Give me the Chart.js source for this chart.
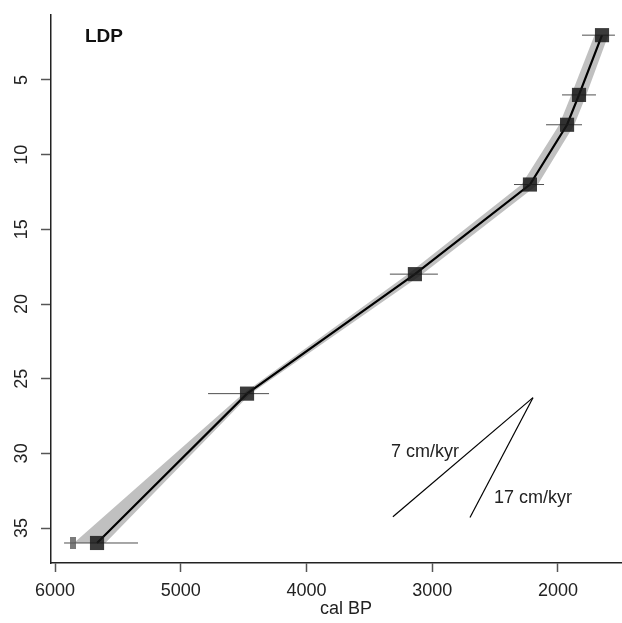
<!DOCTYPE html>
<html>
<head>
<meta charset="utf-8">
<script src="https://cdn.jsdelivr.net/npm/chart.js@4/dist/chart.umd.min.js"></script>
<style>
  body { margin: 0; background: #fff; }
  #wrap { width: 622px; height: 623px; }
</style>
</head>
<body>
<div id="wrap"><canvas id="chart"></canvas></div>
<script>
// depth (cm) and ages (cal BP)
const depths = [2, 6, 8, 12, 18, 26, 36];
const meanAge = [1650, 1833, 1928, 2223, 3138, 4473, 5666];
const errOld = [1809, 1968, 2095, 2350, 3337, 4783, 5928];
const errYoung = [1547, 1698, 1809, 2111, 2955, 4298, 5340];
const bandOld = [1710, 1895, 1990, 2290, 3195, 4505, 5850];
const bandYoung = [1600, 1775, 1870, 2160, 3080, 4445, 5600];
const outlier = [{ x: 5857, y: 36 }];

// sedimentation rate guide lines
const rateApex = { x: 2199, y: 26.27 };
const rateEnds = [{ x: 3313, y: 34.24 }, { x: 2700, y: 34.3 }];
const rateLabels = ['7 cm/kyr', '17 cm/kyr'];
const rateLabelPos = [{ x: 3058, y: 29.9 }, { x: 2199, y: 32.97 }];

const xTicks = [2000, 3000, 4000, 5000, 6000];
const yTicks = [5, 10, 15, 20, 25, 30, 35];

const FONT = '"Liberation Sans", Arial, sans-serif';

const pts = (ages) => ages.map((a, i) => ({ x: a, y: depths[i] }));

const datasets = [
  { // 0: band old edge
    type: 'line', data: pts(bandOld), borderWidth: 0, pointRadius: 0,
    fill: false, order: 11
  },
  { // 1: band young edge, filled to old edge
    type: 'line', data: pts(bandYoung), borderWidth: 0, pointRadius: 0,
    fill: { target: 0 }, backgroundColor: 'rgba(150,150,150,0.6)', order: 10
  },
  { // mean age model
    type: 'line', data: pts(meanAge), borderColor: '#000', borderWidth: 2.2,
    pointRadius: 0, fill: false, order: 5
  },
  { // dated levels
    type: 'scatter', data: pts(meanAge), pointStyle: 'rect', pointRadius: 10,
    backgroundColor: 'rgba(25,25,25,0.85)', borderWidth: 0, order: 0
  },
  { // rejected / outlying date
    type: 'scatter', data: outlier, pointStyle: 'line', rotation: 90, pointRadius: 6,
    borderColor: 'rgba(90,90,90,0.8)', borderWidth: 6, order: 0
  },
  ...rateEnds.map((e) => ({
    type: 'line', data: [rateApex, e], borderColor: '#000', borderWidth: 1.2,
    pointRadius: 0, fill: false, order: 6
  })),
  ...depths.map((d, i) => ({
    type: 'line', data: [{ x: errOld[i], y: d }, { x: errYoung[i], y: d }],
    borderColor: 'rgba(60,60,60,0.9)', borderWidth: 1, pointRadius: 0,
    fill: false, order: 1
  }))
];

const textPlugin = {
  id: 'textPlugin',
  afterDraw(chart) {
    const ctx = chart.ctx;
    const xs = chart.scales.x, ys = chart.scales.y;
    ctx.save();
    ctx.fillStyle = '#222';
    ctx.font = '18px ' + FONT;
    // y tick labels, rotated like R's axis
    ctx.textAlign = 'center';
    ctx.textBaseline = 'middle';
    yTicks.forEach((v) => {
      ctx.save();
      ctx.translate(22, ys.getPixelForValue(v));
      ctx.rotate(-Math.PI / 2);
      ctx.fillText(String(v), 0, 0);
      ctx.restore();
    });
    // axis title
    ctx.fillText('cal BP', 346, 609);
    // rate labels
    rateLabels.forEach((t, i) => {
      ctx.fillText(t, xs.getPixelForValue(rateLabelPos[i].x), ys.getPixelForValue(rateLabelPos[i].y));
    });
    // site name
    ctx.fillStyle = '#111';
    ctx.font = 'bold 19px ' + FONT;
    ctx.textAlign = 'left';
    ctx.fillText('LDP', 85, 37);
    ctx.restore();
  }
};

new Chart(document.getElementById('chart'), {
  type: 'scatter',
  data: { datasets },
  plugins: [textPlugin],
  options: {
    responsive: true,
    maintainAspectRatio: false,
    animation: false,
    layout: { autoPadding: false, padding: { top: 15, right: 0, left: 0, bottom: 0 } },
    plugins: { legend: { display: false }, tooltip: { enabled: false } },
    scales: {
      x: {
        type: 'linear',
        reverse: true,
        min: 1491,
        max: 6032,
        afterFit: (s) => { s.height = 60; s.paddingLeft = 0; s.paddingRight = 0; },
        afterBuildTicks: (s) => { s.ticks = xTicks.map((v) => ({ value: v })); },
        border: { display: true, color: '#222', width: 1.5 },
        grid: { drawOnChartArea: false, drawTicks: true, tickLength: 9, tickColor: '#555', tickWidth: 1.5 },
        ticks: {
          color: '#222', font: { family: FONT, size: 18 }, padding: 8, maxRotation: 0, minRotation: 0,
          callback: (v) => String(v)
        }
      },
      y: {
        type: 'linear',
        reverse: true,
        min: 0.65,
        max: 37.34,
        afterFit: (s) => { s.width = 51; s.paddingTop = 0; s.paddingBottom = 0; },
        afterBuildTicks: (s) => { s.ticks = yTicks.map((v) => ({ value: v })); },
        border: { display: true, color: '#222', width: 1.5 },
        grid: { drawOnChartArea: false, drawTicks: true, tickLength: 10, tickColor: '#555', tickWidth: 1.5 },
        ticks: { display: false }
      }
    }
  }
});
</script>
</body>
</html>
